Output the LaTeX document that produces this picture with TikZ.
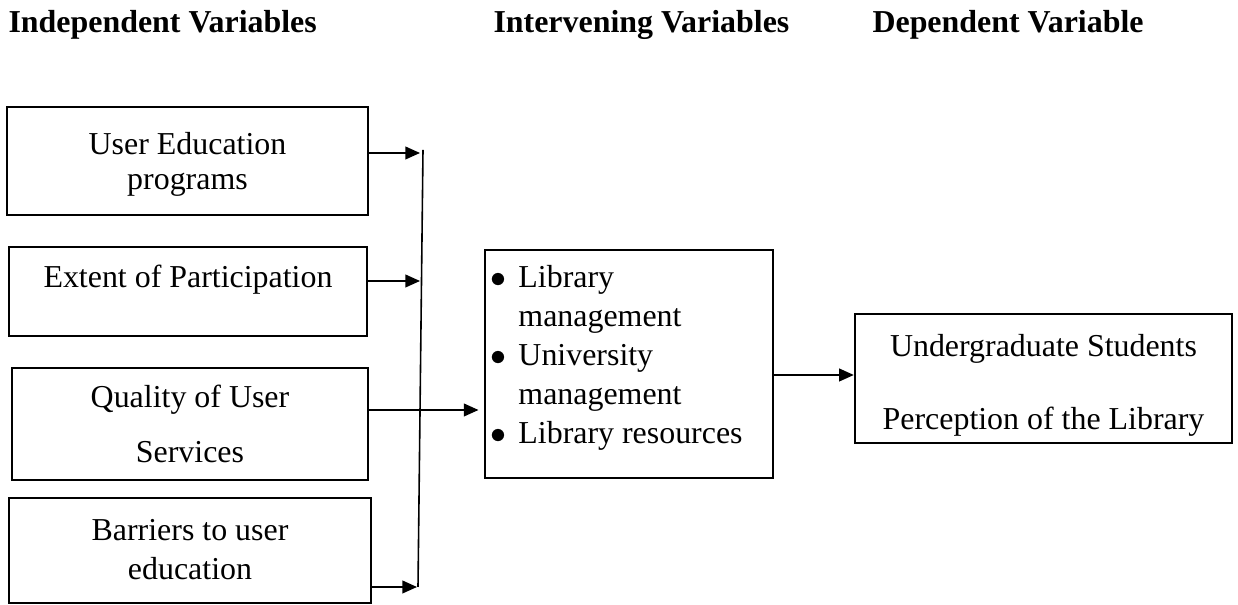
\documentclass[tikz,border=0pt]{standalone}
\usepackage{fontspec}
\setmainfont{Liberation Serif}
\usetikzlibrary{arrows.meta,fit}
\tikzset{
  box/.style={draw, line width=0.9pt, inner sep=0pt},
  txt/.style={inner sep=0pt, align=center, anchor=base, font=\fontsize{12}{#1}\selectfont},
  head/.style={inner sep=0pt, anchor=base west, font=\fontsize{12}{14}\selectfont\bfseries},
  flow/.style={-{Triangle[length=5.5pt,width=4.8pt]}, line width=0.6pt},
}
\newcommand{\itm}{\makebox[10.5pt][l]{$\bullet$}}

\begin{document}
\begin{tikzpicture}[x=0.376pt,y=-0.376pt]
\useasboundingbox (0,0) rectangle (1238,605);

% Headings
\node[head] (hind) at (8,33) {Independent Variables};
\node[head] (hint) at (493,33) {Intervening Variables};
\node[head] (hdep) at (872,33) {Dependent Variable};

% Independent variables (text placed by its last baseline)
\node[box, fit={(7,107) (368,215)}] (edu) {};
\node[txt=13.2pt] (eduT) at (187.5,190) {User Education\\programs};

\node[box, fit={(9,247) (367,336)}] (part) {};
\node[txt=14pt] (partT) at (188,288) {Extent of Participation};

\node[box, fit={(12,368) (368,480)}] (qual) {};
\node[txt=20.7pt] (qualT) at (190,463) {Quality of User\\Services};

\node[box, fit={(9,498) (371,603)}] (barr) {};
\node[txt=15pt] (barrT) at (190,580) {Barriers to user\\education};

% Intervening variables
\node[box, fit={(485,250) (773,478)}] (mid) {};
\node[txt=14.7pt, align=left, anchor=base west] (midT) at (490,444)
  {\itm Library\\\hspace*{10.5pt}management\\\itm University\\\hspace*{10.5pt}management\\\itm Library resources};

% Dependent variable
\node[box, fit={(855,314) (1232,443)}] (perc) {};
\node[txt=27.5pt] (percT) at (1043.5,430) {Undergraduate Students\\Perception of the Library};

% Collecting line
\coordinate (busTop) at (423,150);
\coordinate (busBot) at (418,587);
\draw[line width=0.6pt] (busTop) -- (busBot);

% Arrows
\coordinate (inA) at (420,153);
\coordinate (inB) at (420,281);
\coordinate (inD) at (417,587);
\draw[flow] (edu.east |- inA) -- (inA);
\draw[flow] (part.east |- inB) -- (inB);
\draw[flow] (barr.east |- inD) -- (inD);
\draw[flow, shorten >=2pt] (qual.east |- 0,410) -- (mid.west |- 0,410);
\draw[flow] (mid.east |- 0,375) -- (perc.west |- 0,375);
\end{tikzpicture}
\end{document}
